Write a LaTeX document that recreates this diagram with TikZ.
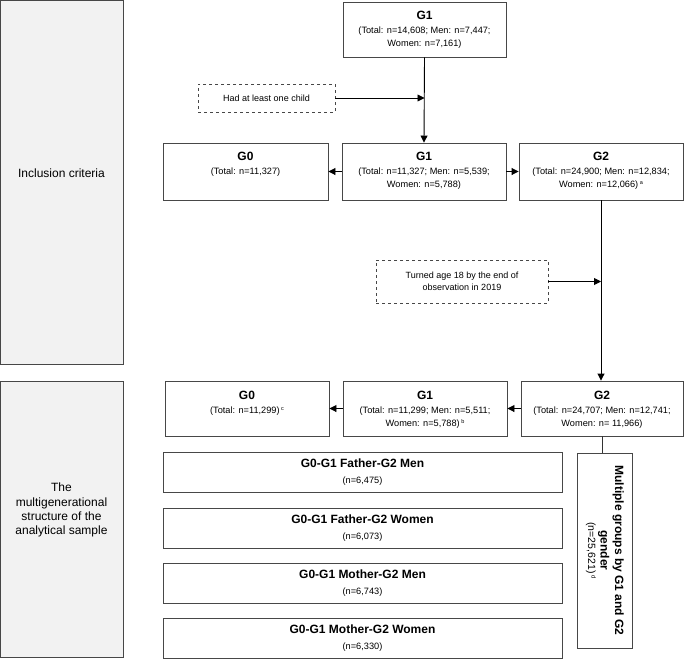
\documentclass[tikz,border=0pt]{standalone}
\usepackage{fontspec}
\setmainfont{Liberation Sans}
\usetikzlibrary{arrows.meta}
\definecolor{bord}{HTML}{474747}
\definecolor{panelfill}{HTML}{F2F2F2}
\newcommand\smtxt{\fontsize{9.2}{13}\selectfont}
\newcommand\ttltxt{\fontsize{12}{14.5}\selectfont\bfseries}
\newcommand\supmark[1]{\,\raisebox{3pt}{\fontsize{5.5}{5.5}\selectfont #1}}
\begin{document}
\begin{tikzpicture}[x=1pt,y=-1pt,
  box/.style={draw=bord, line width=0.9pt, fill=white, inner sep=0pt},
  lbl/.style={anchor=north, align=center, inner sep=0pt, font=\smtxt},
  grp/.style={draw=bord, line width=0.9pt, fill=white, align=center, inner sep=0pt, font=\smtxt, minimum width=399pt, minimum height=40pt},
  dbox/.style={draw=bord, dashed, line width=0.8pt, align=center, inner sep=0pt, font=\fontsize{9}{11.5}\selectfont},
  panelbox/.style={draw=bord, fill=panelfill, line width=0.9pt, inner sep=0pt},
  paneltxt/.style={align=center, inner sep=0pt, font=\fontsize{12}{14.2}\selectfont},
  arr/.style={-{Triangle[length=7pt,width=7pt]}, line width=0.9pt, draw=black},
  ln/.style={line width=0.9pt, draw=black!80}
]
\useasboundingbox (0,0) rectangle (685,659);

% side panels
\node[panelbox, minimum width=123pt, minimum height=364pt] (pan1) at (61.5,182) {};
\node[paneltxt] (pan1t) at (61.5,173) {Inclusion criteria};
\node[panelbox, minimum width=123pt, minimum height=276pt] (pan2) at (61.5,519) {};
\node[paneltxt] (pan2t) at (61.5,510) {The\\multigenerational\\structure of the\\analytical sample};

% top G1
\node[box, minimum width=163pt, minimum height=55pt] (g1top) at (424.5,29.5) {};
\node[lbl] (g1topt) at ([yshift=-9pt]g1top.north) {{\ttltxt G1}\\[1pt](Total: n=14,608; Men: n=7,447;\\Women: n=7,161)};

% dashed criterion 1
\node[dbox, minimum width=137pt, minimum height=28pt] (crit1) at (266.5,98) {Had at least one child};

% middle row
\node[box, minimum width=165pt, minimum height=57pt] (g0mid) at (245.5,171.5) {};
\node[lbl] (g0midt) at ([yshift=-9pt]g0mid.north) {{\ttltxt G0}\\[1pt](Total: n=11,327)};
\node[box, minimum width=164pt, minimum height=57pt] (g1mid) at (424,171.5) {};
\node[lbl] (g1midt) at ([yshift=-9pt]g1mid.north) {{\ttltxt G1}\\[1pt](Total: n=11,327; Men: n=5,539;\\Women: n=5,788)};
\node[box, minimum width=164pt, minimum height=57pt] (g2mid) at (601,171.5) {};
\node[lbl] (g2midt) at ([yshift=-9pt]g2mid.north) {{\ttltxt G2}\\[1pt](Total: n=24,900; Men: n=12,834;\\Women: n=12,066)\supmark{a}};

% dashed criterion 2
\node[dbox, minimum width=172pt, minimum height=43pt] (crit2) at (462,281.5) {Turned age 18 by the end of\\observation in 2019};

% bottom row
\node[box, minimum width=164pt, minimum height=55pt] (g0bot) at (247,408.5) {};
\node[lbl] (g0bott) at ([yshift=-10pt]g0bot.north) {{\ttltxt G0}\\[1pt](Total: n=11,299)\supmark{c}};
\node[box, minimum width=164pt, minimum height=55pt] (g1bot) at (425,408.5) {};
\node[lbl] (g1bott) at ([yshift=-10pt]g1bot.north) {{\ttltxt G1}\\[1pt](Total: n=11,299; Men: n=5,511;\\Women: n=5,788)\supmark{b}};
\node[box, minimum width=162pt, minimum height=55pt] (g2bot) at (602,408.5) {};
\node[lbl] (g2bott) at ([yshift=-10pt]g2bot.north) {{\ttltxt G2}\\[1pt](Total: n=24,707; Men: n=12,741;\\Women: n= 11,966)};

% groups
\node[grp] (gfm) at (362.5,472) {{\ttltxt G0-G1 Father-G2 Men}\\[3pt](n=6,475)};
\node[grp] (gfw) at (362.5,528) {{\ttltxt G0-G1 Father-G2 Women}\\[3pt](n=6,073)};
\node[grp] (gmm) at (362.5,583) {{\ttltxt G0-G1 Mother-G2 Men}\\[3pt](n=6,743)};
\node[grp] (gmw) at (362.5,638) {{\ttltxt G0-G1 Mother-G2 Women}\\[3pt](n=6,330)};

\node[box, minimum width=55pt, minimum height=195pt] (multi) at (604.5,550.5) {};
\node[rotate=-90, align=center, inner sep=0pt, text width=185pt] (multit) at (605,550.5) {\ttltxt Multiple groups by G1 and G2\\gender\\[0.5pt]\fontsize{10.5}{13}\selectfont\mdseries (n=25,621)\,\raisebox{3.5pt}{\fontsize{6}{6}\selectfont d}};

% connectors
\draw[arr] (g1top.south) -- (g1mid.north);
\coordinate (c1) at (crit1.east -| g1top.south);
\draw[arr] (crit1.east) -- (c1);
\draw[arr] (g1mid.west) -- (g0mid.east);
\draw[arr] (g1mid.east) -- (g2mid.west);
\draw[arr] (g2mid.south) -- (g2mid.south |- g2bot.north);
\coordinate (c2) at (crit2.east -| g2mid.south);
\draw[arr] (crit2.east) -- (c2);
\draw[arr] (g2bot.west) -- (g1bot.east);
\draw[arr] (g1bot.west) -- (g0bot.east);
\draw[ln] (g2bot.south) -- (g2bot.south |- multi.north);
\end{tikzpicture}
\end{document}
